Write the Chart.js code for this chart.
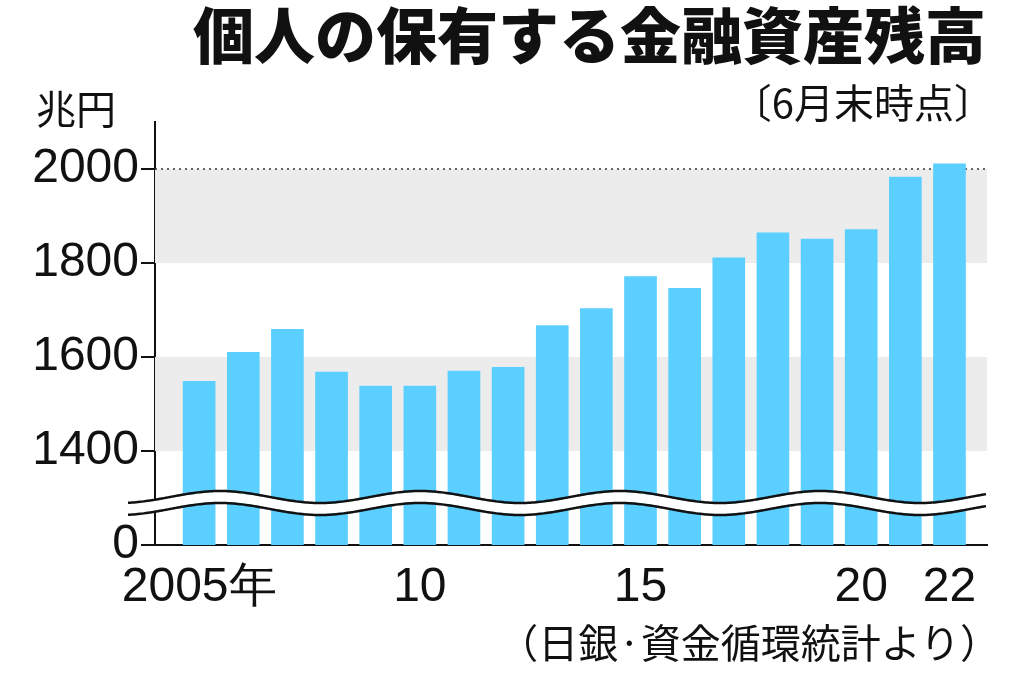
<!DOCTYPE html>
<html><head><meta charset="utf-8">
<script src="https://cdn.jsdelivr.net/npm/chart.js@4/dist/chart.umd.min.js"></script>
<style>
body{margin:0;background:#fff;font-family:"Noto Sans CJK JP",sans-serif;}
#wrap{position:relative;width:1024px;height:678px;}
.t{position:absolute;color:#111;white-space:nowrap;}
</style></head><body>
<div id="wrap">
<canvas id="c" width="1024" height="678"></canvas>
<div class="t" style="right:38px;top:-12px;font-size:61px;font-weight:900;">個人の保有する金融資産残高</div>
<div class="t" style="right:30px;top:72px;font-size:40px;">〔6月末時点〕</div>
<div class="t" style="left:36px;top:78px;font-size:40px;">兆円</div>
<div class="t" style="right:24px;top:612px;font-size:40px;">（日銀·資金循環統計より）</div>
</div>
<script>
const years=[2005,2006,2007,2008,2009,2010,2011,2012,2013,2014,2015,2016,2017,2018,2019,2020,2021,2022];
const values=[1548,1610,1659,1568,1538,1538,1570,1578,1667,1703,1771,1746,1811,1864,1851,1871,1983,2011];
const xLabels={2005:'2005年',2010:'10',2015:'15',2020:'20',2022:'22'};
const yLabels={1200:'0',1400:'1400',1600:'1600',1800:'1800',2000:'2000'};
const bands=[[1400,1600],[1800,2000]];
const deco={id:'deco',
beforeDatasetsDraw(ch){const {ctx,chartArea:a,scales:{y}}=ch;ctx.save();ctx.fillStyle='#ececec';
for(const [l,h] of bands){ctx.fillRect(a.left,y.getPixelForValue(h),a.right-a.left,y.getPixelForValue(l)-y.getPixelForValue(h));}
ctx.strokeStyle='#333';ctx.setLineDash([2,4]);ctx.lineWidth=1.5;ctx.beginPath();const p=y.getPixelForValue(2000);ctx.moveTo(a.left,p);ctx.lineTo(a.right,p);ctx.stroke();ctx.restore();},
afterDatasetsDraw(ch){const {ctx,chartArea:a}=ch;ctx.save();const x0=128,x1=a.right,yc=503,amp=6,per=200;
const w=x=>yc+amp*Math.cos((x-120)/per*2*Math.PI);
ctx.fillStyle='#fff';ctx.beginPath();for(let x=x0;x<=x1;x+=2)ctx.lineTo(x,w(x)-5);for(let x=x1;x>=x0;x-=2)ctx.lineTo(x,w(x)+5);ctx.closePath();ctx.fill();
ctx.strokeStyle='#111';ctx.lineWidth=2.5;for(const d of[-6,6]){ctx.beginPath();for(let x=x0;x<=x1;x+=2){x==x0?ctx.moveTo(x,w(x)+d):ctx.lineTo(x,w(x)+d);}ctx.stroke();}
ctx.restore();}};
new Chart(document.getElementById('c'),{type:'bar',
data:{datasets:[{data:years.map((yr,i)=>({x:yr,y:values[i]})),backgroundColor:'#5bcfff',barThickness:32}]},
options:{responsive:false,animation:false,layout:{padding:{top:122,right:37,left:0,bottom:0}},
plugins:{legend:{display:false},tooltip:{enabled:false}},
scales:{
x:{type:'linear',min:2004,max:2022.85,offset:false,grid:{display:false},border:{color:'#111',width:2},afterFit(s){s.height=133;},
afterBuildTicks(s){s.ticks=years.map(v=>({value:v}));},
ticks:{autoSkip:false,maxRotation:0,color:'#111',padding:6,font:{size:48,family:'Liberation Sans'},callback(v){return xLabels[v]||'';}}},
y:{min:1200,max:2100,afterFit(s){s.width=155;},border:{color:'#111',width:2},
grid:{drawOnChartArea:false,tickLength:14,color:'#111',lineWidth:2},
ticks:{stepSize:100,color:'#111',padding:2,font:{size:48,family:'Liberation Sans'},callback(v){return yLabels[v]||'';}}}}},
plugins:[deco]});
</script></body></html>
